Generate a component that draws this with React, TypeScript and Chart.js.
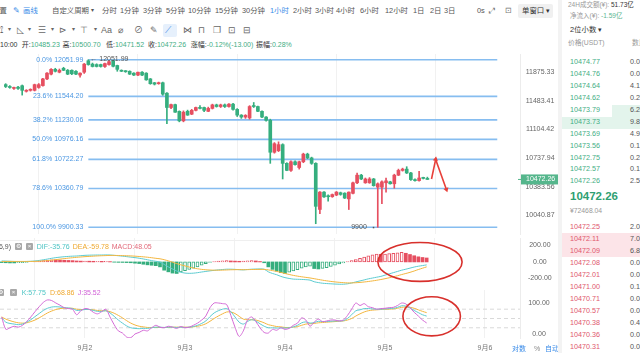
import React, { useEffect, useRef } from 'react';
import { Chart, registerables } from 'chart.js';

Chart.register(...registerables);

const FONT = '"Liberation Sans", "Noto Sans CJK SC", Arial, sans-serif';
const RED = '#e64f60';
const GREEN = '#35ae7e';
const BLUE = '#3b8ce8';
const FIB_LINE = '#86bdf0';
const FIB_TEXT = '#4b97e2';
const TAG = '#55b68c';
const MARK = '#d8302c';

// ---- time axis (hours relative to 9月2 00:00) ----
const firstCandleHour = -20; // 9月1 04:00
const axisStartHour = -20.4;
const axisEndHour = 104.4;
const dayHours = [0, 24, 48, 72, 96];
const dayLabels = ['9月2', '9月3', '9月4', '9月5', '9月6'];

// ---- hourly candles ----
const opens = [11705,11679,11653,11670,11690,11614,11627,11627,11666,11692,
11784,11850,11917,11877,11931,11904,11904,11890,11837,11877,
12038,11990,11984,11984,11957,11984,12040,11971,11904,11890,
11890,11864,11837,11877,11864,11784,11731,11718,11731,11588,
11395,11434,11344,11218,11344,11306,11357,11395,11395,11344,
11383,11430,11408,11430,11408,11440,11370,11294,11268,11256,
11420,11408,11344,11268,11225,10812,10832,10909,10672,10584,
10692,10620,10692,10788,10740,10672,10110,10318,10270,10262,
10282,10310,10305,10236,10303,10431,10525,10431,10431,10478,
10378,10378,10431,10443,10419,10525,10584,10600,10552,10470,
10458,10490,10485.23];
const highs = [11718,11692,11672,11680,11700,11636,11648,11712,11720,11792,
11872,11928,11932,11922,11946,11915,11910,11900,11868,12000,
12051.99,12005,11995,11990,12005,12040,12046,11976,11910,11900,
11896,11870,11880,11885,11870,11790,11736,11740,11740,11595,
11440,11440,11350,11350,11360,11370,11400,11420,11400,11400,
11440,11440,11440,11442,11446,11450,11380,11300,11300,11420,
11462,11415,11350,11275,11240,10935,10945,10920,10680,10705,
10705,10700,10800,10800,10750,10680,10325,10325,10285,10295,
10325,10318,10310,10320,10440,10552,10535,10490,10495,10485,
10430,10455,10490,10450,10537,10600,10612,10630,10560,10480,
10573,10500,10500.70];
const lows = [11665,11655,11640,11640,11562,11603,11616,11618,11655,11684,
11774,11840,11880,11868,11898,11843,11843,11843,11808,11860,
11975,11950,11950,11948,11945,11975,11950,11890,11885,11875,
11845,11830,11830,11830,11765,11710,11700,11710,11560,11180,
11380,11330,11205,11205,11290,11300,11350,11375,11340,11340,
11375,11400,11395,11395,11400,11360,11275,11250,11250,11240,
11395,11340,11260,11215,10672,10800,10820,10478,10580,10570,
10650,10600,10680,10730,10660,9942,10060,10255,10210,10255,
10275,10280,10240,10109,10295,10420,10470,10425,10425,10390,
9900,10180,10318,10415,10365,10520,10575,10545,10460,10450,
10450,10478,10471.52];
const closes = [11679,11666,11666,11653,11627,11627,11640,11705,11705,11784,
11864,11917,11890,11904,11904,11850,11855,11850,11864,11990,
11984,11957,11957,11957,11998,12025,11960,11917,11890,11884,
11850,11837,11877,11837,11771,11718,11712,11731,11575,11395,
11434,11332,11218,11332,11294,11357,11395,11383,11357,11383,
11430,11408,11430,11408,11440,11370,11294,11268,11290,11408,
11408,11344,11268,11225,10812,10921,10909,10672,10584,10692,
10656,10692,10788,10740,10672,10147,10318,10260,10262,10288,
10318,10290,10246,10318,10431,10525,10478,10478,10478,10396,
10419,10443,10455,10419,10525,10584,10600,10552,10470,10458,
10490,10485,10472.26];

// ---- fibonacci drawing ----
const fibPercents = ['0.0%', '23.6%', '38.2%', '50.0%', '61.8%', '78.6%', '100.0%'];
const fibLevels = [12051.99, 11544.2, 11230.06, 10976.16, 10722.27, 10360.79, 9900.33];
const fibStartHour = 0;
const fibEndHour = 98.9;

const priceTicks = [11875.33, 11483.41, 11104.42, 10737.94, 10383.56, 10040.87];
const priceMin = 9822.7;
const priceMax = 12133.5;

const highMarkHour = 0;
const highMark = 12051.99;
const lowMarkHour = 70;
const lowMark = 9900;

const arrowHours = [83, 84, 86.6];
const arrowPrices = [10478, 10722, 10350];

// ---- MACD ----
const macdDif = [12,10,8,6,5,5,6,8,12,18,
26,35,44,52,58,63,67,70,72,76,
80,82,83,84,84,85,84,80,75,70,
64,58,52,45,36,26,16,8,-2,-30,
-60,-85,-110,-125,-135,-138,-136,-130,-122,-115,
-108,-102,-96,-92,-88,-88,-90,-94,-96,-92,
-88,-86,-85,-88,-120,-140,-155,-175,-190,-200,
-208,-210,-212,-215,-220,-240,-250,-258,-262,-265,
-268,-270,-270,-265,-255,-242,-230,-218,-205,-195,
-185,-175,-160,-145,-130,-115,-100,-88,-75,-62,
-52,-44,-35.76];
const macdDea = [5,6,6,6,6,6,6,6,7,9,
12,16,22,28,34,40,46,51,56,60,
64,67,70,73,75,77,79,79,78,77,
75,73,70,66,62,57,51,44,38,27,
13,-3,-20,-35,-48,-62,-74,-83,-90,-95,
-98,-100,-100,-99,-97,-95,-94,-93,-94,-93,
-92,-91,-90,-90,-96,-105,-115,-127,-140,-152,
-163,-172,-180,-187,-194,-203,-212,-221,-229,-236,
-242,-247,-251,-254,-254,-252,-248,-243,-237,-230,
-222,-213,-203,-192,-180,-167,-153,-140,-126,-110,
-92,-76,-59.78];
const macdHist = [-8,-10,-12,-12,-10,-8,-5,0,5,10,
16,22,25,24,22,20,18,16,12,10,
10,9,8,8,7,7,4,-3,-5,-6,
-8,-10,-15,-20,-28,-35,-40,-45,-60,-100,
-120,-135,-140,-120,-105,-90,-75,-60,-40,-20,
-5,5,10,14,15,12,10,8,10,14,
15,12,5,-10,-60,-90,-110,-130,-140,-125,
-110,-95,-75,-60,-50,-80,-85,-80,-70,-55,
-40,-25,-12,5,15,30,45,60,75,85,
95,92,95,100,105,110,115,105,90,75,
62,54,48.05];
const macdTicks = [200, 0, -200];
// hand-drawn ellipse mark on MACD: centre (hour, value), radii (hours, value)
const macdMark = { hour: 80.4, value: 0, rHours: 10.1, rValue: 236 };

// ---- KDJ ----
const kdjK = [52,38,34,32,30,32,38,46,56,66,
76,83,87,88,87,85,84,82,76,77,
79,79,76,73,73,75,68,57,45,35,
26,20,18,17,18,18,20,22,22,21,
22,22,21,22,21,22,24,28,34,42,
56,68,75,80,82,72,55,38,32,40,
46,42,33,25,20,20,19,20,19,20,
23,28,36,39,35,37,41,40,40,41,
42,42,43,50,62,75,78,82,82,81,
80,80,81,82,83,86,91,90,84,76,
69,62,57.75];
const kdjD = [55,48,43,39,36,35,36,40,45,52,
60,68,74,79,82,83,83,83,80,79,
79,79,78,76,75,75,72,67,60,52,
43,35,29,25,23,21,21,21,21,21,
21,22,22,22,22,22,23,25,28,33,
41,50,58,65,71,71,66,57,48,46,
46,45,41,36,30,27,24,23,21,21,
22,24,28,32,33,34,36,37,38,39,
40,41,42,45,50,58,65,71,75,77,
78,79,80,80,81,83,86,87,86,83,
78,73,68.86];
const kdjJ = [55,15,20,25,22,28,40,55,72,88,
102,110,108,100,93,85,82,80,62,75,
82,80,70,65,72,80,55,30,10,3,
-10,-12,0,5,12,10,20,28,22,20,
25,22,18,24,20,22,28,35,45,58,
85,100,100,98,95,60,22,-8,10,45,
55,40,20,5,3,15,12,20,15,18,
28,35,52,45,25,38,48,40,42,45,
45,42,45,60,80,100,92,98,88,85,
80,82,83,85,86,92,100,97,85,70,
58,45,35.52];
const kdjTicks = [100, 0];
const kdjGuides = [80, 50, 20];
const kdjMark = { hour: 83.2, value: 57, rHours: 6.9, rValue: 63 };

// ---- toolbar / order book text ----
const periodLabels = ['分时','1分钟','3分钟','5分钟','10分钟','15分钟','30分钟','1小时','2小时','3小时','4小时','6小时','12小时','1日','2日','3日'];
const periodX = [102,120,143,166,188,215,242,270,293,315,336,360,385,413,430,444];
const quoteLabels = ['开', '高', '低', '收', '涨幅', '振幅'];
const quoteValues = ['10485.23', '10500.70', '10471.52', '10472.26', '-0.12%(-13.00)', '0.28%'];
const quoteX = [21.7, 62.5, 106, 148, 190.7, 256];
const askPrices = ['10474.91','10474.77','10474.76','10474.64','10474.62','10473.79','10473.73','10473.69','10473.56','10472.75','10472.57','10472.26'];
const askAmounts = ['0.0100','0.0312','0.0150','4.1933','0.2000','6.2015','9.8120','4.9310','0.1300','0.2480','0.1500','2.5712'];
const bidPrices = ['10472.25','10472.11','10472.09','10472.08','10472.01','10471.00','10470.71','10470.57','10470.38','10470.36','10470.31'];
const bidAmounts = ['2.0400','7.0512','6.8021','0.0700','0.0600','0.1300','0.0400','0.0300','0.4100','0.0600','0.0400'];

const candleHours = opens.map((_, i) => firstCandleHour + i);
const candleColors = closes.map((c, i) => (c >= opens[i] ? RED : GREEN));
const lastClose = closes[closes.length - 1];

function timeScale(showLabels: boolean): any {
  return {
    type: 'linear',
    min: axisStartHour,
    max: axisEndHour,
    offset: false,
    afterBuildTicks: (s: any) => { s.ticks = dayHours.map((v) => ({ value: v })); },
    ticks: {
      display: showLabels, autoSkip: false, maxRotation: 0, padding: 6,
      color: '#777', font: { size: 7, family: FONT },
      callback: (_v: any, i: number) => dayLabels[i],
    },
    grid: { color: '#f1f1f1', drawTicks: false },
    border: { display: false },
    afterFit: (s: any) => { s.height = showLabels ? 15 : 0; s.paddingLeft = 0; s.paddingRight = 0; },
  };
}

function valueScale(type: string, min: number, max: number, ticks: number[], pad: number): any {
  return {
    type, position: 'right', min, max,
    afterBuildTicks: (s: any) => { s.ticks = ticks.map((v) => ({ value: v })); },
    ticks: {
      autoSkip: false, crossAlign: 'center', padding: pad,
      color: '#666', font: { size: 7, family: FONT },
      callback: (v: any) => Number(v).toFixed(2),
    },
    grid: { display: false, drawTicks: false },
    border: { display: true, color: '#ececec' },
    afterFit: (s: any) => { s.width = 40; s.paddingTop = 0; s.paddingBottom = 0; },
  };
}

const baseOptions = {
  animation: false as const,
  responsive: false,
  maintainAspectRatio: false,
  events: [] as any[],
  layout: { padding: 0 },
  plugins: { legend: { display: false }, tooltip: { enabled: false } },
};

function ellipsePlugin(id: string, mark: { hour: number; value: number; rHours: number; rValue: number }) {
  return {
    id,
    afterDraw(chart: any) {
      const { ctx } = chart;
      const x = chart.scales.x;
      const y = chart.scales.y;
      const cx = x.getPixelForValue(mark.hour);
      const cy = y.getPixelForValue(mark.value);
      const rx = Math.abs(x.getPixelForValue(mark.hour + mark.rHours) - cx);
      const ry = Math.abs(y.getPixelForValue(mark.value + mark.rValue) - cy);
      ctx.save();
      ctx.strokeStyle = MARK;
      ctx.lineWidth = 1.6;
      ctx.beginPath();
      ctx.ellipse(cx, cy, rx, ry, 0, 0, Math.PI * 2);
      ctx.stroke();
      ctx.restore();
    },
  };
}

const mainOverlay = {
  id: 'mainOverlay',
  afterDatasetsDraw(chart: any) {
    const { ctx } = chart;
    const x = chart.scales.x;
    const y = chart.scales.y;
    ctx.save();
    ctx.font = `7px ${FONT}`;
    ctx.textBaseline = 'middle';
    ctx.textAlign = 'right';
    ctx.fillStyle = FIB_TEXT;
    const fx = x.getPixelForValue(fibStartHour) - 5;
    fibLevels.forEach((v, k) => ctx.fillText(`${fibPercents[k]} ${v.toFixed(2)}`, fx, y.getPixelForValue(v)));
    ctx.fillStyle = '#555';
    ctx.textAlign = 'left';
    ctx.fillText(`← ${highMark.toFixed(2)}`, x.getPixelForValue(highMarkHour) + 2, y.getPixelForValue(highMark) - 1);
    const lx = x.getPixelForValue(lowMarkHour);
    const ly = y.getPixelForValue(lowMark);
    ctx.textAlign = 'right';
    ctx.fillText(String(lowMark), lx - 11, ly);
    ctx.fillRect(lx - 5, ly - 0.5, 1.5, 1.5);
    ctx.restore();
  },
  afterDraw(chart: any) {
    const { ctx, chartArea } = chart;
    const py = chart.scales.y.getPixelForValue(lastClose);
    ctx.save();
    ctx.fillStyle = TAG;
    ctx.fillRect(chartArea.right + 1, py - 5, 40, 10);
    ctx.fillRect(chartArea.right - 2, py - 0.5, 3, 1);
    ctx.fillStyle = '#fff';
    ctx.font = `7px ${FONT}`;
    ctx.textBaseline = 'middle';
    ctx.textAlign = 'left';
    ctx.fillText(lastClose.toFixed(2), chartArea.right + 6, py);
    ctx.restore();
  },
};

function Txt({ x, y, size = 7, color = '#555', children, style }: any) {
  return (
    <div style={{ position: 'absolute', left: x, top: y - size * 0.6, fontSize: size, lineHeight: `${size * 1.2}px`, color, whiteSpace: 'nowrap', ...style }}>
      {children}
    </div>
  );
}

function IconBox({ x, y, glyph }: any) {
  return (
    <div style={{ position: 'absolute', left: x, top: y - 3.5, width: 7, height: 7, background: '#a8a8a8', borderRadius: 1, color: '#fff', fontSize: 6, lineHeight: '7px', textAlign: 'center' }}>{glyph}</div>
  );
}

const toolIcons: [string, number][] = [['⟟',0],['▾',8],['◺',17],['▾',28],['☰',38],['▾',51],['⊳',59],['▾',72],['⊤',80],['▾',94],['Aa',101],['⌀',118],['⊘',134],['✎',150],['⋈',183],['⊓',198],['❐',213],['⊡',228],['⊟',243]];

export default function App() {
  const mainRef = useRef<HTMLCanvasElement>(null);
  const macdRef = useRef<HTMLCanvasElement>(null);
  const kdjRef = useRef<HTMLCanvasElement>(null);

  useEffect(() => {
    Chart.defaults.font.family = FONT;
    const main = new Chart(mainRef.current as HTMLCanvasElement, {
      type: 'bar',
      data: {
        datasets: [
          ...fibLevels.map((v) => ({
            type: 'line' as const,
            data: [{ x: fibStartHour, y: v }, { x: fibEndHour, y: v }],
            borderColor: FIB_LINE, borderWidth: 1.6, pointRadius: 0, fill: false, order: 5,
          })),
          {
            type: 'bar' as const,
            data: candleHours.map((h, i) => ({ x: h, y: [lows[i], highs[i]] })),
            backgroundColor: candleColors, barThickness: 1, grouped: false, borderWidth: 0, order: 3,
          },
          {
            type: 'bar' as const,
            data: candleHours.map((h, i) => ({ x: h, y: [Math.min(opens[i], closes[i]), Math.max(opens[i], closes[i])] })),
            backgroundColor: candleColors, barThickness: 3, minBarLength: 1, grouped: false, borderWidth: 0, order: 2,
          },
          {
            type: 'line' as const,
            data: arrowHours.map((h, k) => ({ x: h, y: arrowPrices[k] })),
            borderColor: '#e8403a', borderWidth: 1.6, fill: false, tension: 0, order: 1,
            pointRadius: [0, 3, 3], pointStyle: 'triangle', pointRotation: [0, 11, 161],
            pointBackgroundColor: '#e8403a', pointBorderWidth: 0,
          },
        ] as any,
      },
      options: {
        ...baseOptions,
        scales: {
          x: timeScale(false),
          y: valueScale('logarithmic', priceMin, priceMax, priceTicks, 5.4),
        },
      } as any,
      plugins: [mainOverlay],
    });

    const histSolid = macdHist.map((v, i) => {
      const p = i > 0 ? macdHist[i - 1] : 0;
      return v >= 0 ? v < p : v <= p;
    });
    const histColor = macdHist.map((v) => (v >= 0 ? RED : GREEN));
    const macd = new Chart(macdRef.current as HTMLCanvasElement, {
      type: 'bar',
      data: {
        datasets: [
          {
            type: 'bar' as const,
            data: candleHours.map((h, i) => ({ x: h, y: macdHist[i] })),
            backgroundColor: histSolid.map((s, i) => (s ? histColor[i] : '#ffffff')),
            borderColor: histColor,
            borderWidth: histSolid.map((s) => (s ? 0 : 1)),
            borderSkipped: false,
            barThickness: 3, grouped: false, order: 3,
          },
          {
            type: 'line' as const,
            data: candleHours.map((h, i) => ({ x: h, y: macdDif[i] })),
            borderColor: '#5ccbd0', borderWidth: 1, pointRadius: 0, tension: 0.3, order: 2,
          },
          {
            type: 'line' as const,
            data: candleHours.map((h, i) => ({ x: h, y: macdDea[i] })),
            borderColor: '#f3b63f', borderWidth: 1, pointRadius: 0, tension: 0.3, order: 1,
          },
        ] as any,
      },
      options: {
        ...baseOptions,
        scales: {
          x: timeScale(false),
          y: valueScale('linear', -340, 290, macdTicks, 8),
        },
      } as any,
      plugins: [ellipsePlugin('macdMark', macdMark)],
    });

    const kdj = new Chart(kdjRef.current as HTMLCanvasElement, {
      type: 'line',
      data: {
        datasets: [
          ...kdjGuides.map((g) => ({
            data: [{ x: axisStartHour, y: g }, { x: axisEndHour, y: g }],
            borderColor: '#d9d9d9', borderWidth: 1, borderDash: [4, 3], pointRadius: 0, order: 5,
          })),
          { data: candleHours.map((h, i) => ({ x: h, y: kdjD[i] })), borderColor: '#f3b63f', borderWidth: 1, pointRadius: 0, tension: 0.3, order: 3 },
          { data: candleHours.map((h, i) => ({ x: h, y: kdjK[i] })), borderColor: '#5ccbd0', borderWidth: 1, pointRadius: 0, tension: 0.3, order: 2 },
          { data: candleHours.map((h, i) => ({ x: h, y: kdjJ[i] })), borderColor: '#d46bd6', borderWidth: 1, pointRadius: 0, tension: 0.3, order: 1 },
        ] as any,
      },
      options: {
        ...baseOptions,
        scales: {
          x: timeScale(true),
          y: valueScale('linear', -13, 142, kdjTicks, 8.3),
        },
      } as any,
      plugins: [ellipsePlugin('kdjMark', kdjMark)],
    });

    return () => { main.destroy(); macd.destroy(); kdj.destroy(); };
  }, []);

  return (
    <div style={{ position: 'fixed', left: 0, top: 0, width: 640, height: 353, overflow: 'hidden', background: '#fff', fontFamily: FONT }}>
      <canvas ref={mainRef} width={560} height={188} style={{ position: 'absolute', left: 0, top: 50, display: 'block' }} />
      <canvas ref={macdRef} width={560} height={52} style={{ position: 'absolute', left: 0, top: 238, display: 'block' }} />
      <canvas ref={kdjRef} width={560} height={63} style={{ position: 'absolute', left: 0, top: 290, display: 'block' }} />
      <div style={{ position: 'absolute', left: 0, top: 240, width: 370, height: 1, background: '#efefef' }} />

      {/* toolbar row 1 */}
      <Txt x={-8} y={11} size={7.4}>设置</Txt>
      <Txt x={13} y={11} color={BLUE} size={8}>✎</Txt>
      <Txt x={23} y={11} size={7.4} color={BLUE}>画线</Txt>
      <Txt x={52} y={11} size={7.4}>自定义周期</Txt>
      <Txt x={91} y={11} size={6}>▾</Txt>
      {periodLabels.map((p, k) => (
        <Txt key={p} x={periodX[k]} y={11} size={7.4} color={k === 7 ? BLUE : '#555'}>{p}</Txt>
      ))}
      <Txt x={477} y={11} size={7.4}>0s</Txt>
      <Txt x={489} y={11} size={8} color="#777">⤢</Txt>
      <Txt x={505} y={11} size={8} color="#777">⊡</Txt>
      <div style={{ position: 'absolute', left: 518, top: 4, width: 35, height: 14, background: '#f0f0f0', borderRadius: 2 }} />
      <Txt x={522} y={11} size={7.4} color="#333">单窗口 ▾</Txt>

      {/* toolbar row 2 */}
      <div style={{ position: 'absolute', left: 163, top: 24, width: 14, height: 13, background: '#e6f0fc', borderRadius: 2 }} />
      {toolIcons.map(([g, x], k) => (
        <Txt key={k} x={x} y={30} size={g === '▾' ? 6 : 9} color="#666">{g}</Txt>
      ))}
      <Txt x={165} y={30} size={9} color={BLUE}>⟋</Txt>

      {/* quote row */}
      <Txt x={0} y={45} color="#333">10:00</Txt>
      {quoteLabels.map((l, k) => (
        <Txt key={l} x={quoteX[k]} y={45} color="#333">
          {l}:<span style={{ color: '#3fae84' }}>{quoteValues[k]}</span>
        </Txt>
      ))}

      {/* indicator headers */}
      <div style={{ position: 'absolute', right: 629, top: 246.7 - 4.2, fontSize: 7, lineHeight: '8.4px', color: '#555', whiteSpace: 'nowrap' }}>MACD(12,26,9)</div>
      <IconBox x={15} y={246.7} glyph="⚙" />
      <IconBox x={26} y={246.7} glyph="×" />
      <Txt x={36.7} y={246.7} color="#4cc4c4">DIF:-35.76</Txt>
      <Txt x={72.7} y={246.7} color="#efa82e">DEA:-59.78</Txt>
      <Txt x={111.7} y={246.7} color="#e26a7a">MACD:48.05</Txt>

      <IconBox x={-3} y={292.7} glyph="⚙" />
      <IconBox x={10} y={292.7} glyph="×" />
      <Txt x={21.7} y={292.7} color="#4cc4c4">K:57.75</Txt>
      <Txt x={50} y={292.7} color="#efa82e">D:68.86</Txt>
      <Txt x={77.7} y={292.7} color="#d05ed6">J:35.52</Txt>

      <Txt x={512} y={349} color={BLUE}>对数</Txt>
      <Txt x={534} y={349} color="#888">%</Txt>
      <Txt x={545} y={349} color={BLUE}>自动</Txt>

      {/* right panel */}
      <div style={{ position: 'absolute', left: 558, top: 0, width: 4, height: 353, background: '#f3f3f3' }} />
      <Txt x={568} y={5} size={6.5} color="#999">24H成交额(¥): <span style={{ color: '#333' }}>51.73亿</span></Txt>
      <Txt x={570} y={16} size={6.5} color="#999">净流入(¥): <span style={{ color: '#5bb58f' }}>-1.59亿</span></Txt>
      <Txt x={570} y={30} size={7.4} color="#333">2位小数 ▾</Txt>
      <Txt x={568} y={43.3} size={6.8} color="#999">价格(USDT)</Txt>
      <Txt x={632} y={43.3} size={6.8} color="#999">数量</Txt>

      <div style={{ position: 'absolute', left: 562, top: 53.5, width: 78, height: 134, overflow: 'hidden' }}>
        <div style={{ position: 'absolute', left: 50, top: 105 - 53.5, width: 28, height: 11.5, background: '#e3f4ec' }} />
        <div style={{ position: 'absolute', left: 0, top: 117 - 53.5, width: 78, height: 11.5, background: '#e3f4ec' }} />
        {askPrices.map((p, k) => (
          <React.Fragment key={p}>
            <Txt x={8} y={50.8 + 11.9 * k - 53.5} size={7.2} color="#3fae84">{p}</Txt>
            <Txt x={68} y={50.8 + 11.9 * k - 53.5} size={7.2} color="#555">{askAmounts[k]}</Txt>
          </React.Fragment>
        ))}
      </div>
      <Txt x={570} y={197} size={11.5} color="#2f9f72" style={{ fontWeight: 700 }}>10472.26</Txt>
      <Txt x={570} y={211.5} size={6.8} color="#999">¥72468.04</Txt>
      <div style={{ position: 'absolute', left: 562, top: 233, width: 78, height: 24, background: '#fce4e8' }} />
      {bidPrices.map((p, k) => (
        <React.Fragment key={p}>
          <Txt x={570} y={227 + 12 * k} size={7.2} color="#e0566c">{p}</Txt>
          <Txt x={630} y={227 + 12 * k} size={7.2} color="#555">{bidAmounts[k]}</Txt>
        </React.Fragment>
      ))}
    </div>
  );
}
